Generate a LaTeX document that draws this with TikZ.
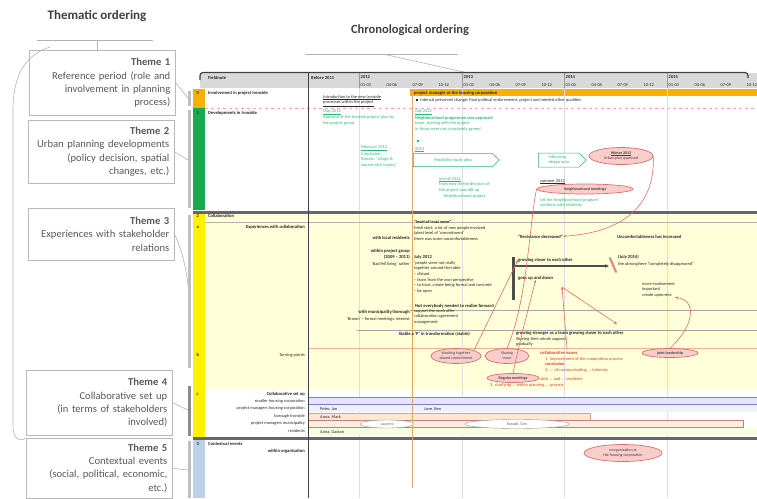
\documentclass[tikz,border=0pt]{standalone}
\usepackage{fontspec}
\setmainfont{Carlito}
\usetikzlibrary{shapes.geometric,shapes.symbols,arrows.meta}
\definecolor{corange}{HTML}{F5B300}
\definecolor{cgreen}{HTML}{1AAA4E}
\definecolor{cyellow}{HTML}{FFF200}
\definecolor{cblue}{HTML}{BCD0E8}
\definecolor{lyellow}{HTML}{FFFFDA}
\definecolor{gtext}{HTML}{2BB673}
\definecolor{rline}{HTML}{D8706A}
\definecolor{pinkfill}{HTML}{F8CDCB}
\definecolor{rtext}{HTML}{D0453A}
\definecolor{oline}{HTML}{E2A46E}
\definecolor{bluel}{HTML}{7383D0}
\newcommand{\sqmark}{\rule{2pt}{2pt}}
\begin{document}
\begin{tikzpicture}[x=1pt,y=-1pt,
  tx/.style={font=\fontsize{4.4}{5.6}\selectfont, inner sep=0pt, anchor=base west, text=black!85},
  txb/.style={tx, font=\fontsize{4.6}{5.6}\selectfont\bfseries},
  gt/.style={tx, text=gtext},
  gtb/.style={txb, text=gtext},
  rt/.style={tx, text=rtext},
  themebox/.style={draw=black!28, line width=0.6pt, fill=white, text width=136pt, align=right,
    inner sep=5pt, anchor=north west, font=\fontsize{10.6}{13.3}\selectfont, text=black!65},
  redell/.style={ellipse, draw=rline, fill=pinkfill, line width=0.7pt, inner sep=0pt,
    font=\fontsize{4}{4.8}\selectfont, text=black!75, align=center},
  wellip/.style={ellipse, draw=black!40, fill=white, inner sep=0pt, font=\fontsize{4}{4.8}\selectfont, text=black!60},
  rarr/.style={draw=rline, line width=0.6pt, -{Stealth[length=3pt,width=2.5pt]}},
  rl/.style={draw=rline, line width=0.6pt},
  gbox/.style={signal, signal to=east, draw=gtext, fill=white, inner sep=1pt, line width=0.5pt,
    font=\fontsize{4.4}{5.4}\selectfont, text=gtext, align=left},
  conn/.style={draw=black!30, line width=0.6pt}
]
\useasboundingbox (0,0) rectangle (757,498);

% ---------- titles ----------
\node[font=\fontsize{13}{15}\selectfont\bfseries, text=black!75] (tt) at (97,16) {Thematic ordering};
\node[font=\fontsize{12.5}{15}\selectfont\bfseries, text=black!75] (ct) at (410,30) {Chronological ordering};
\coordinate (tl1) at (37,40); \coordinate (tl2) at (153,40); \coordinate (tlm) at (97,40);
\draw[conn] (tl1) -- (tl2);
\coordinate (cl1) at (305,54); \coordinate (cl2) at (458,54); \coordinate (clm) at (383,54); \coordinate (clh) at (468,73);
\draw[conn] (cl1) -- (cl2);
\draw[conn] (clm) -- (clh);

% ---------- theme boxes ----------
\node[themebox, minimum height=65pt] (t1) at (29,50) {\textbf{Theme 1}\\Reference period (role and\\involvement in planning\\process)};
\node[themebox, minimum height=63pt] (t2) at (28,120) {\textbf{Theme 2}\\Urban planning developments\\(policy decision, spatial\\changes, etc.)};
\node[themebox, minimum height=52pt] (t3) at (28,208) {\textbf{Theme 3}\\Experiences with stakeholder\\relations};
\node[themebox, minimum height=65pt] (t4) at (26,370) {\textbf{Theme 4}\\Collaborative set up\\(in terms of stakeholders\\involved)};
\node[themebox, minimum height=60pt] (t5) at (26,438) {\textbf{Theme 5}\\Contextual events\\(social, political, economic,\\etc.)};
\draw[conn] (tlm) -- (t1.north -| tlm);
\coordinate (lc0) at (50,47);
\draw[conn] (lc0) .. controls (22,56) and (13,80) .. (13,110) -- (13,425) .. controls (13,437) and (18,443) .. (t5.north west);

% gray strip and connectors
\draw[black!25, line width=3pt] (189.5,91) -- (189.5,106);
\draw[black!25, line width=3pt] (189.5,110) -- (189.5,208);
\draw[black!25, line width=3pt] (189.5,215) -- (189.5,368);
\draw[black!45, line width=3pt] (189.5,386) -- (189.5,436);
\draw[black!25, line width=3pt] (189.5,441) -- (189.5,498);
\coordinate (s1) at (188,98); \coordinate (s2) at (188,160);
\coordinate (s3) at (188,285); \coordinate (s4) at (188,410); \coordinate (s5) at (188,470);
\draw[conn] (t1.east) -- (s1);
\draw[conn] (t2.east) -- (s2);
\draw[conn] (t3.east) .. controls (182,250) and (186,268) .. (s3);
\draw[conn] (t4.east) -- (s4);
\draw[conn] (t5.east) -- (s5);

% ---------- chart backgrounds ----------
\fill[black!15] (200,73) rectangle (757,88);
\fill[corange] (193,89) rectangle (205,108);
\fill[cgreen] (193,108) rectangle (205,210);
\fill[cyellow] (193,214) rectangle (205,437);
\fill[cblue] (193,440) rectangle (205,498);
\fill[lyellow] (205,214) rectangle (757,390);
\fill[corange] (410,89) rectangle (757,96);
\draw[red!35, dashed, line width=0.5pt] (205,108) -- (757,108);

% year lines
\foreach \xx in {359,462,564,667} { \draw[black!13, line width=0.5pt] (\xx,88) -- (\xx,498); }
\foreach \xx in {359,462,564,667} { \draw[black!40, line width=0.5pt] (\xx,73) -- (\xx,88); }

% row separators
\draw[black!30, line width=0.4pt] (205,222) -- (757,222);
\draw[black!35, line width=0.4pt] (410,310) -- (757,310);
\draw[black!35, line width=0.4pt] (357,330) -- (757,330);
\draw[oline!80, line width=0.5pt] (308,348) -- (757,348);

% collaborative set-up bands
\fill[blue!10] (308,397) rectangle (757,404);
\draw[bluel, line width=0.8pt] (308,397) -- (757,397);
\draw[bluel, line width=0.8pt] (308,404) -- (757,404);
\fill[blue!6] (308,405) rectangle (757,412);
\draw[oline, fill=orange!18, line width=0.5pt] (308,413) rectangle (590,420);
\draw[black!50!red!50, fill=red!10!orange!12, line width=0.6pt] (308,420.5) rectangle (743,427.5);
\fill[green!30!yellow!12] (308,428) rectangle (757,435);

% separators
\draw[black!60, line width=3pt] (193,212) -- (757,212);
\draw[black!60, line width=2.5pt] (193,438.5) -- (757,438.5);
\draw[black!75, line width=1pt] (308,72.5) -- (308,498);
\draw[oline, line width=1pt] (412,89) -- (412,488);
\draw[black!75, line width=1.2pt, rounded corners=3pt] (200,80) -- (200,72.5) -- (748,72.5) -- (748,78);

% ---------- header ----------
\node[txb] (hf) at (208,79) {Fieldnote};
\node[txb] (hb) at (311,79) {Before 2011};
\foreach \yx/\yl [count=\i] in {359/2012,462/2013,564/2014,667/2015} {
  \node[txb] (yr\i) at (\yx+1.5,78.5) {\yl};
  \foreach \q/\ql [count=\j] in {0/01-03,26/04-06,52/07-09,78/10-12}
    \node[tx] (q\i\j) at (\yx+1.5+\q,86) {\ql};
}

% ---------- row labels ----------
\node[txb] (n0) at (196.5,94) {0};
\node[txb] (n1) at (196.5,114) {1};
\node[txb] (n2) at (196.5,217) {2};
\node[txb] (n2a) at (196.5,228) {a};
\node[txb] (n2b) at (196.5,356) {b};
\node[txb] (n2c) at (196.5,395) {c};
\node[txb] (n3) at (196.5,445) {3};
\node[txb] (r0) at (208,94) {Involvement in project Ironside};
\node[txb] (r1) at (208,114) {Developments in Ironside};
\node[txb] (r2) at (208,217) {Collaboration};
\node[txb, anchor=base east] (r2a) at (305,228) {Experiences with collaboration};
\node[tx, anchor=base east] (r2b) at (305,356) {Turning points};
\node[txb, anchor=base east] (r2c) at (305,395) {Collaborative set up};
\node[tx, anchor=base east] (c1) at (305,402) {smaller housing corporation};
\node[tx, anchor=base east] (c2) at (305,409.5) {project managers housing corporation};
\node[tx, anchor=base east] (c3) at (305,417) {borough Ironside};
\node[tx, anchor=base east] (c4) at (305,424.5) {project managers municipality};
\node[tx, anchor=base east] (c5) at (305,432) {residents};
\node[txb] (r3) at (208,445) {Contextual events};
\node[txb, anchor=base east] (r3a) at (305,452) {within organisation};

% ---------- row 0 ----------
\node[txb] (o1) at (414,94) {project manager at the housing corporation};
\node[tx] (o2) at (416,101) {\sqmark\enspace Internal personnel change: final political endorsement, project and needed other qualities};
\node[tx, align=left, anchor=north west] (o3) at (323,95) {\underline{Introduction to the new Ironside}\\\underline{processes within the project}};

% ---------- row 1 (green) ----------
\node[gt, align=left, anchor=north west] (g1) at (323,109) {\underline{May 2012}\\Approval of the Ironside project plan by\\the project group};
\node[gt, align=left, anchor=north west] (g2) at (415,109) {\underline{July 2012}\\\textbf{Neighbourhood programme was approved}\\team, starting with the project\\in those were not completely agreed};
\node[gt] (g2a) at (417,142) {\sqmark};
\node[gt] (g2b) at (415,150) {\underline{2013}};
\node[gbox, minimum width=86pt, minimum height=13pt, anchor=west] (fs) at (413,160) {Feasibility study area};
\node[gt, align=left, anchor=north west] (g3) at (361,145) {\underline{February 2013}\\Conclusion\\Results: `village \&\\square with inquiry'};
\node[gt, align=left, anchor=north west] (g4) at (439,177) {\underline{end of 2012}\\from now on the decision of\\the project was left up\\\quad Neighbourhood project};
\node[gbox, minimum width=48pt, minimum height=14pt, anchor=west] (inf) at (538,160) {Informing\\design area};
\node[redell, minimum width=64pt, minimum height=17pt] (win) at (621,156) {\textbf{\underline{Winter 2013}}\\Urban plan approved};
\node[tx] (g5) at (540,182) {\underline{summer 2013}};
\node[redell, minimum width=96pt, minimum height=10pt] (nm) at (585,189) {\textbf{Neighbourhood meetings}};
\node[gt, align=left, anchor=north west] (g6) at (540,198) {Let the Neighbourhood program\\continue with residents};

% ---------- row a (experiences) ----------
\node[txb, anchor=base east] (a1) at (410,239) {with local residents};
\node[txb, anchor=base east] (a2) at (410,252) {within project group};
\node[txb, anchor=base east] (a3) at (410,258) {(2009 -- 2011)};
\node[tx, anchor=base east] (a4) at (410,265) {`Bad fell living' rather};
\node[txb, anchor=base east] (a5) at (410,313) {with municipality/borough};
\node[tx, anchor=base east] (a6) at (410,320) {`Brown' -- formal meetings, interest};
\node[txb, anchor=base east] (a7) at (470,335) {Stable a `P' in transformation (stable)};
\node[tx, align=left, anchor=north west] (b1) at (414,220) {\textbf{"level of trust were"}\\fresh start: a lot of new people involved\\latest level of `commitment'\\there was some uncomfortableness};
\node[txb] (b2) at (414,258) {July 2012};
\node[tx, align=left, anchor=north west] (b3) at (414,261) {`people were not really\\together around the table\\-- distant\\-- learn from the own perspective\\-- to trust, create being formal and concrete\\-- be open};
\node[txb] (b4) at (415,307) {Not everybody needed to realize forward};
\node[tx, align=left, anchor=north west] (b5) at (414,309) {support the work offer\\collaboration agreement\\management};
\node[txb] (m1) at (518,238) {"Resistance decreased"};
\node[txb] (m2) at (617,238) {Uncomfortableness has increased};
\node[txb] (m3) at (518,261) {growing closer to each other};
\node[txb] (m4) at (618,258) {(July 2014)};
\node[tx] (m5) at (618,265) {the atmosphere "completely disappeared"};
\node[txb] (m6) at (518,279) {goes up and down};
\node[tx, align=left, anchor=north west] (m7) at (642,282) {more involvement\\important\\create openness};
\node[txb] (m8) at (516,334) {growing stronger as a team growing closer to each other};
\node[tx, align=left, anchor=north west] (m9) at (516,337) {Sharing their whole support\\gradually};
% dark bar + arrow
\coordinate (db1) at (513.5,257); \coordinate (db2) at (513.5,300);
\draw[black!70, line width=2.5pt] (db1) -- (db2);
\coordinate (da1) at (515,266); \coordinate (da2) at (609,266);
\draw[black!70, line width=1.3pt, -{Stealth[length=4pt,width=3.5pt]}] (da1) -- (da2);
\draw[rline!80, line width=2.2pt, line cap=round] (610,258) -- (616,272);

% ---------- row b (turning points) ----------
\node[redell, minimum width=50pt, minimum height=15pt] (tp1) at (456,356) {Working together\\shared commitment};
\node[redell, minimum width=44pt, minimum height=15pt] (tp2) at (507,356) {Sharing\\more};
\node[rt, font=\fontsize{4.6}{5.6}\selectfont\bfseries] (ci) at (540,354) {collaborative issues};
\node[rt, align=left, anchor=north west] (ci2) at (545,357) {1. improvement of the cooperation process\\\textbf{conclusion}\\2. ... of communicating ... interests};
\node[redell, minimum width=52pt, minimum height=9pt] (rm) at (513,378) {\textbf{Regular meetings}};
\node[rt] (ci3) at (540,380) {with ... and ... residents};
\node[rt] (ci4) at (490,386) {3. clarifying ... within planning ... process};
\node[redell, minimum width=56pt, minimum height=9pt] (jl) at (670,353) {\textbf{joint leadership}};

% red connectors
\draw[rarr] (win.east) .. controls (655,205) and (625,232) .. (m1.east);
\draw[rl] (nm.west) .. controls (530,215) and (528,300) .. (tp2.north);
\draw[rarr] (tp1.north east) -- (m3.west);
\draw[rarr] (rm.north) .. controls (520,340) and (528,310) .. (m6.south);
\coordinate (c6a) at (567,349); \coordinate (c6b) at (562,287);
\draw[rarr] (c6a) -- (c6b);
\coordinate (c7b) at (617,324);
\draw[rarr] (c6b) -- (c7b);
\draw[rarr] (jl.north) .. controls (695,325) and (697,300) .. (m7.south east);

% ---------- row c texts ----------
\node[tx] (p1) at (320,410.5) {Peter, Jan};
\node[tx] (p2) at (424,410.5) {Jane, Ben};
\node[tx] (p3) at (320,418) {Anna, Mark};
\node[wellip, minimum width=54pt, minimum height=8pt] (e1) at (387,424) {Laurens};
\node[wellip, minimum width=104pt, minimum height=9pt] (e2) at (517,424) {Ronald, Tom};
\node[tx] (p4) at (320,433) {Anna, Gaston};

% ---------- contextual ----------
\node[redell, minimum width=78pt, minimum height=17pt] (ce) at (623,453) {reorganisation at\\the housing corporation};
\end{tikzpicture}
\end{document}
